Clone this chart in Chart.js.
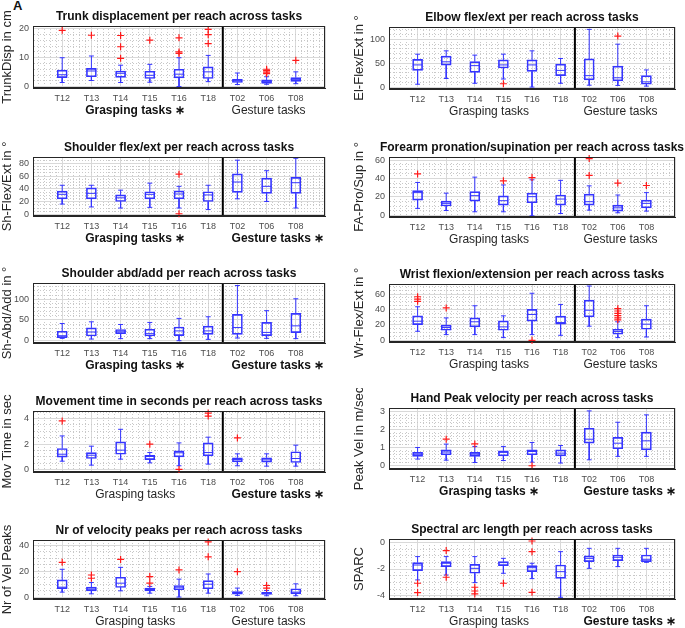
<!DOCTYPE html>
<html lang="en">
<head>
<meta charset="UTF-8">
<title>Reach kinematics per task</title>
<script src="https://cdn.jsdelivr.net/npm/chart.js"></script>
<style>
    body { margin: 0; background: #fff; font-family: "Liberation Sans", Arial, sans-serif; }
    #fig { position: relative; width: 685px; height: 628px; overflow: hidden; }
    #fig canvas { position: absolute; }
    .ttl { position: absolute; font-weight: bold; font-size: 12px; line-height: 14px; color: #111; white-space: nowrap; transform: translateX(-50%); }
    .grp { position: absolute; font-size: 12px; line-height: 14px; color: #262626; white-space: nowrap; }
    .grp.mid { transform: translateX(-50%); }
    .grp.b { font-weight: bold; color: #111; }
    .tag { position: absolute; left: 13px; top: -2px; font-weight: bold; font-size: 13px; color: #111; }
</style>
</head>
<body>
<div id="fig"><div class="tag">A</div></div>
<script>
// tasks on the x axis; the first six are grasping tasks, the rest gesture tasks
const categories = ['T12', 'T13', 'T14', 'T15', 'T16', 'T18', 'T02', 'T06', 'T08'];
const nGrasp = 6;

// each box: [lower whisker, q1, median, q3, upper whisker]
const trunkBox = [[1.4, 3.1, 4.1, 5.7, 10.0], [2.1, 3.4, 5.4, 6.3, 10.6], [1.4, 3.2, 4.6, 5.4, 7.4],
    [1.5, 2.8, 3.9, 5.3, 7.7], [0.0, 3.0, 4.3, 6.0, 10.0], [1.7, 2.8, 5.1, 6.8, 10.8],
    [0.7, 1.4, 2.0, 2.5, 4.7], [0.8, 1.1, 1.7, 2.3, 3.4], [1.0, 1.8, 2.5, 3.1, 5.1]];
const trunkOut = [[19.5], [17.8], [17.7, 13.8, 9.8], [16.1], [16.9, 12.0, 11.5], [19.8, 18.0, 14.9], [], [6.0, 5.5, 5.0, 4.5], [9.1]];

const elbowBox = [[6, 35, 46.5, 58, 69], [18, 46, 53, 65, 76], [8, 31, 45, 53.5, 67],
    [17, 40, 46.5, 57, 69], [0, 33, 46.5, 57, 76], [8, 24, 35, 48, 60],
    [4, 15, 24, 59, 121], [3.5, 13, 19.5, 44, 90], [2, 6, 11, 24, 36]];
const elbowOut = [[], [], [], [7], [], [], [], [107], []];

const shFlexBox = [[16.2, 24.4, 31.5, 36.5, 45.7], [11.7, 24.4, 33, 41.6, 45.7], [10, 20.3, 26, 30.5, 38],
    [11, 24.4, 31.5, 35.5, 49], [10, 24.4, 32, 37, 44], [7.6, 20.3, 30.5, 35.5, 45.7],
    [24.4, 34.5, 50.8, 63.5, 85], [20.3, 33, 44, 57, 68.5], [10, 33, 49.7, 58, 88]];
const shFlexOut = [[], [], [], [], [63, 1], [], [], [], []];

const forearmBox = [[7.4, 16.5, 24.6, 26.8, 35.7], [5.1, 10, 12.9, 15.4, 24], [3.7, 15.4, 21.3, 25.7, 41.5],
    [3.7, 11, 15.8, 21, 33], [-0.7, 13.6, 20.2, 24, 38.6], [1.8, 11, 17.6, 22, 38],
    [5.5, 11, 14.7, 23, 32], [2.6, 4.4, 8, 11, 22], [4.4, 8, 12.9, 16.5, 24.6]];
const forearmOut = [[45], [], [], [37.5], [41], [], [61.8, 43.4], [35], [32.4]];

const shAbdBox = [[5.7, 7.3, 12, 22.8, 41.5], [4, 11.4, 21, 31, 45.5], [5, 17, 22.8, 27, 39],
    [5, 11.4, 17, 27.6, 44], [0, 12.2, 23.6, 33, 53.7], [3.3, 15.4, 23.6, 35, 57.7],
    [6.5, 15.4, 31.7, 63.4, 133], [5.7, 12.2, 20, 44, 72.4], [5, 19.5, 35.8, 66, 101]];
const shAbdOut = [[], [], [], [], [], [], [], [], []];

const wristBox = [[11.7, 20.4, 24.8, 31.7, 43.5], [7.4, 13, 16.5, 19.6, 29], [7.4, 17.4, 24, 29, 44.8],
    [3.5, 13, 17.4, 25.2, 31.7], [7.4, 24.8, 33.5, 40, 61], [6.5, 20.9, 23, 31.3, 46.5],
    [18.3, 30.4, 39, 52, 70.4], [3.5, 7.8, 11.3, 14.3, 24], [4.3, 14.3, 20.9, 27.4, 44.8]];
const wristOut = [[56.5, 53.5, 50.5], [42], [], [], [0], [], [], [41, 38, 35, 32, 29, 26.5], []];

const moveBox = [[0.65, 0.97, 1.2, 1.65, 2.64], [0.34, 0.86, 1.12, 1.33, 1.83], [0.81, 1.2, 1.52, 2.17, 3.16],
    [0.52, 0.78, 1.02, 1.12, 1.33], [0.29, 0.99, 1.31, 1.46, 2.09], [0.42, 1.07, 1.33, 2.09, 2.54],
    [0.29, 0.6, 0.78, 0.92, 1.23], [0.26, 0.58, 0.76, 0.92, 1.23], [0.26, 0.55, 0.86, 1.39, 1.91]];
const moveOut = [[3.82], [], [], [1.99], [0], [4.44, 4.2], [2.48], [], []];

const peakVelBox = [[0.37, 0.52, 0.61, 0.74, 1.01], [0.31, 0.61, 0.76, 0.88, 1.2], [0.18, 0.52, 0.64, 0.74, 1.07],
    [0.29, 0.55, 0.74, 0.83, 1.07], [0.2, 0.61, 0.79, 0.88, 1.29], [0.15, 0.55, 0.7, 0.88, 1.12],
    [0.33, 1.25, 1.47, 2.08, 3.04], [0.52, 0.94, 1.25, 1.57, 2.41], [0.52, 0.88, 1.38, 1.86, 2.82]];
const peakVelOut = [[], [1.47], [1.21], [], [0], [], [], [], []];

const nPeaksBox = [[3.8, 6.4, 7.6, 13.2, 21.4], [2.5, 4.8, 6.1, 7.6, 11.2], [4.8, 7.4, 10.7, 15.3, 22.9],
    [3, 4.8, 6.1, 6.9, 8.2], [0, 5.6, 7.6, 8.9, 13.8], [3, 6.4, 9.9, 12.7, 17.8],
    [1.3, 2.3, 3.6, 4.3, 6.9], [1, 2, 2.8, 3.6, 5.1], [1, 2.5, 3.8, 6.4, 10.2]];
const nPeaksOut = [[26.8], [17, 14.5], [29], [15.8, 10.7], [20.9], [42.5, 31], [19.6], [8.9, 6.9], []];

const sparcBox = [[-2.82, -2.12, -1.7, -1.52, -1.07], [-2.45, -1.82, -1.57, -1.45, -1.07], [-3.02, -2.32, -1.95, -1.65, -1.07],
    [-2.32, -1.75, -1.52, -1.45, -1.2], [-2.72, -2.2, -1.9, -1.75, -1.57], [-4.12, -2.7, -2.2, -1.7, -0.7],
    [-1.95, -1.45, -1.2, -1.02, -0.45], [-1.82, -1.37, -1.12, -0.95, -0.45], [-1.5, -1.45, -1.27, -0.95, -0.45]];
const sparcOut = [[-3.07, -3.77], [-0.62, -2.62], [-3.37, -3.65, -3.87], [-3.07], [0.1, -0.7, -3.75], [], [], [], []];

// star = significance marker on [grasping, gesture] group labels
const panels = [
    { title: 'Trunk displacement per reach across tasks', yLabel: 'TrunkDisp in cm', box: trunkBox, out: trunkOut,
      yMin: -0.5, yMax: 21, major: 10, minor: 2, star: [true, false], col: 0, top: 26, bottom: 88 },
    { title: 'Elbow flex/ext per reach across tasks', yLabel: 'El-Flex/Ext in °', box: elbowBox, out: elbowOut,
      yMin: -4, yMax: 126, major: 50, minor: 10, star: [false, false], col: 1, top: 27, bottom: 89 },
    { title: 'Shoulder flex/ext per reach across tasks', yLabel: 'Sh-Flex/Ext in °', box: shFlexBox, out: shFlexOut,
      yMin: -2.5, yMax: 90, major: 20, minor: 5, star: [true, true], col: 0, top: 157, bottom: 216 },
    { title: 'Forearm pronation/supination per reach across tasks', yLabel: 'FA-Pro/Sup in °', box: forearmBox, out: forearmOut,
      yMin: -2, yMax: 63.5, major: 20, minor: 5, star: [false, false], col: 1, top: 157, bottom: 217 },
    { title: 'Shoulder abd/add per reach across tasks', yLabel: 'Sh-Abd/Add in °', box: shAbdBox, out: shAbdOut,
      yMin: -5.5, yMax: 139, major: 50, minor: 10, star: [true, true], col: 0, top: 283, bottom: 343 },
    { title: 'Wrist flexion/extension per reach across tasks', yLabel: 'Wr-Flex/Ext in °', box: wristBox, out: wristOut,
      yMin: -2.2, yMax: 73, major: 20, minor: 5, star: [false, false], col: 1, top: 284, bottom: 342 },
    { title: 'Movement time in seconds per reach across tasks', yLabel: 'Mov Time in sec', box: moveBox, out: moveOut,
      yMin: -0.2, yMax: 4.6, major: 2, minor: 0.5, star: [false, true], col: 0, top: 411, bottom: 472 },
    { title: 'Hand Peak velocity per reach across tasks', yLabel: 'Peak Vel in m/sec', box: peakVelBox, out: peakVelOut,
      yMin: -0.18, yMax: 3.2, major: 1, minor: 0.2, star: [true, true], col: 1, top: 408, bottom: 469 },
    { title: 'Nr of velocity peaks per reach across tasks', yLabel: 'Nr of Vel Peaks', box: nPeaksBox, out: nPeaksOut,
      yMin: -1.5, yMax: 44, major: 20, minor: 5, star: [false, false], col: 0, top: 540, bottom: 599 },
    { title: 'Spectral arc length per reach across tasks', yLabel: 'SPARC', box: sparcBox, out: sparcOut,
      yMin: -4.25, yMax: 0.25, major: 2, minor: 0.5, star: [false, true], col: 1, top: 539, bottom: 599 }
];

const columns = [
    { left: 0, width: 340, padLeft: 0, axisW: 33, padRight: 15 },
    { left: 340, width: 345, padLeft: 12, axisW: 37, padRight: 10 }
];

const FONT = '"Liberation Sans", Arial, sans-serif';
const BLUE = '#3535ff';
const RED = '#ff1a1a';
const TICK = '#4d4d4d';
const FRAME = '#262626';
const GRID_MAJOR = '#d9d9d9';
const GRID_MINOR = '#c8c8c8';
const PAD_TOP = 20;
const X_AXIS_H = 30;
const BOX_HALF = 0.17;
const CAP_HALF = 0.085;

Chart.defaults.font.family = FONT;

const near = (v, step) => Math.abs(v / step - Math.round(v / step)) < 1e-6;

function makeTicks(min, max, step) {
    const ticks = [];
    for (let k = Math.ceil(min / step - 1e-9); k * step <= max + 1e-9; k++) {
        ticks.push({ value: +(k * step).toFixed(6) });
    }
    return ticks;
}

// closed box frame round the plot area, like a matlab axes box
const framePlugin = {
    id: 'frame',
    afterDatasetsDraw(chart) {
        const { ctx, chartArea: a } = chart;
        ctx.save();
        ctx.strokeStyle = FRAME;
        ctx.lineWidth = 1;
        ctx.strokeRect(Math.round(a.left) + 0.5, Math.round(a.top) + 0.5,
            Math.round(a.right) - Math.round(a.left) - 1, Math.round(a.bottom) - Math.round(a.top) - 1);
        ctx.restore();
    }
};

const fig = document.getElementById('fig');

function addText(cls, text, left, top) {
    const d = document.createElement('div');
    d.className = cls;
    d.textContent = text;
    d.style.left = left + 'px';
    d.style.top = top + 'px';
    fig.appendChild(d);
}

panels.forEach(p => {
    const c = columns[p.col];
    const canvas = document.createElement('canvas');
    canvas.width = c.width;
    canvas.height = (p.bottom - p.top) + PAD_TOP + X_AXIS_H;
    canvas.style.left = c.left + 'px';
    canvas.style.top = (p.top - PAD_TOP) + 'px';
    fig.appendChild(canvas);

    const boxes = p.box.map((s, i) => ({ x: i + 1, y: [s[1], s[3]] }));

    // whiskers, caps and medians as one broken line
    const strokes = [];
    p.box.forEach((s, i) => {
        const x = i + 1;
        const [lo, q1, med, q3, hi] = s;
        strokes.push(
            { x, y: q3 }, { x, y: hi }, { x, y: null },
            { x, y: q1 }, { x, y: lo }, { x, y: null },
            { x: x - CAP_HALF, y: hi }, { x: x + CAP_HALF, y: hi }, { x, y: null },
            { x: x - CAP_HALF, y: lo }, { x: x + CAP_HALF, y: lo }, { x, y: null },
            { x: x - BOX_HALF, y: med }, { x: x + BOX_HALF, y: med }, { x, y: null }
        );
    });

    const outliers = [];
    p.out.forEach((vals, i) => vals.forEach(v => outliers.push({ x: i + 1, y: v })));

    const split = nGrasp + 0.5;
    const divider = [{ x: split, y: p.yMin }, { x: split, y: p.yMax }];

    const chart = new Chart(canvas, {
        type: 'bar',
        data: {
            datasets: [
                { type: 'line', data: divider, borderColor: '#000', borderWidth: 2, pointRadius: 0, order: 4 },
                { type: 'bar', data: boxes, backgroundColor: 'rgba(0,0,0,0)', borderColor: BLUE, borderWidth: 1,
                  borderSkipped: false, barThickness: 10, order: 3 },
                { type: 'line', data: strokes, borderColor: BLUE, borderWidth: 1, pointRadius: 0,
                  spanGaps: false, tension: 0, order: 2 },
                { type: 'scatter', data: outliers, pointStyle: 'cross', pointRadius: 3.5, clip: false,
                  borderColor: RED, backgroundColor: RED, borderWidth: 1.2, order: 1 }
            ]
        },
        options: {
            responsive: false,
            animation: false,
            devicePixelRatio: 1,
            events: [],
            layout: { padding: { left: c.padLeft, right: c.padRight, top: PAD_TOP, bottom: 0 } },
            plugins: { legend: { display: false }, tooltip: { enabled: false }, title: { display: false } },
            scales: {
                x: {
                    type: 'linear', min: 0, max: 10, bounds: 'data', offset: false,
                    afterBuildTicks: s => { s.ticks = makeTicks(0, 10, 0.2); },
                    afterFit: s => { s.height = X_AXIS_H; },
                    ticks: {
                        autoSkip: false, maxRotation: 0, minRotation: 0, padding: 5,
                        color: TICK, font: { size: 9 },
                        callback: v => (near(v, 1) && v >= 1 && v <= categories.length) ? categories[Math.round(v) - 1] : ''
                    },
                    grid: {
                        offset: false, drawTicks: false,
                        color: ctx => (ctx.tick && near(ctx.tick.value, 1)) ? GRID_MAJOR : GRID_MINOR
                    },
                    border: { color: FRAME, dash: ctx => (ctx.tick && !near(ctx.tick.value, 1)) ? [1, 2] : [] }
                },
                y: {
                    type: 'linear', min: p.yMin, max: p.yMax, bounds: 'data', beginAtZero: false,
                    afterBuildTicks: s => { s.ticks = makeTicks(p.yMin, p.yMax, p.minor); },
                    afterFit: s => { s.width = c.axisW; },
                    title: { display: true, text: p.yLabel, color: FRAME, font: { size: 13 }, padding: 0 },
                    ticks: {
                        autoSkip: false, padding: 4, color: TICK, font: { size: 9 },
                        callback: v => near(v, p.major) ? String(Math.round(v / p.major) * p.major) : ''
                    },
                    grid: {
                        drawTicks: false,
                        color: ctx => (ctx.tick && near(ctx.tick.value, p.major)) ? GRID_MAJOR : GRID_MINOR
                    },
                    border: { color: FRAME, dash: ctx => (ctx.tick && !near(ctx.tick.value, p.major)) ? [1, 2] : [] }
                }
            }
        },
        plugins: [framePlugin]
    });

    const a = chart.chartArea;
    const xs = chart.scales.x;
    addText('ttl', p.title, c.left + (a.left + a.right) / 2, p.top - 17);
    addText('grp mid' + (p.star[0] ? ' b' : ''), 'Grasping tasks' + (p.star[0] ? ' ∗' : ''),
        c.left + xs.getPixelForValue((nGrasp + 1) / 2), p.bottom + 15);
    addText('grp' + (p.star[1] ? ' b' : ''), 'Gesture tasks' + (p.star[1] ? ' ∗' : ''),
        c.left + xs.getPixelForValue(nGrasp + 0.8), p.bottom + 15);
});
</script>
</body>
</html>
